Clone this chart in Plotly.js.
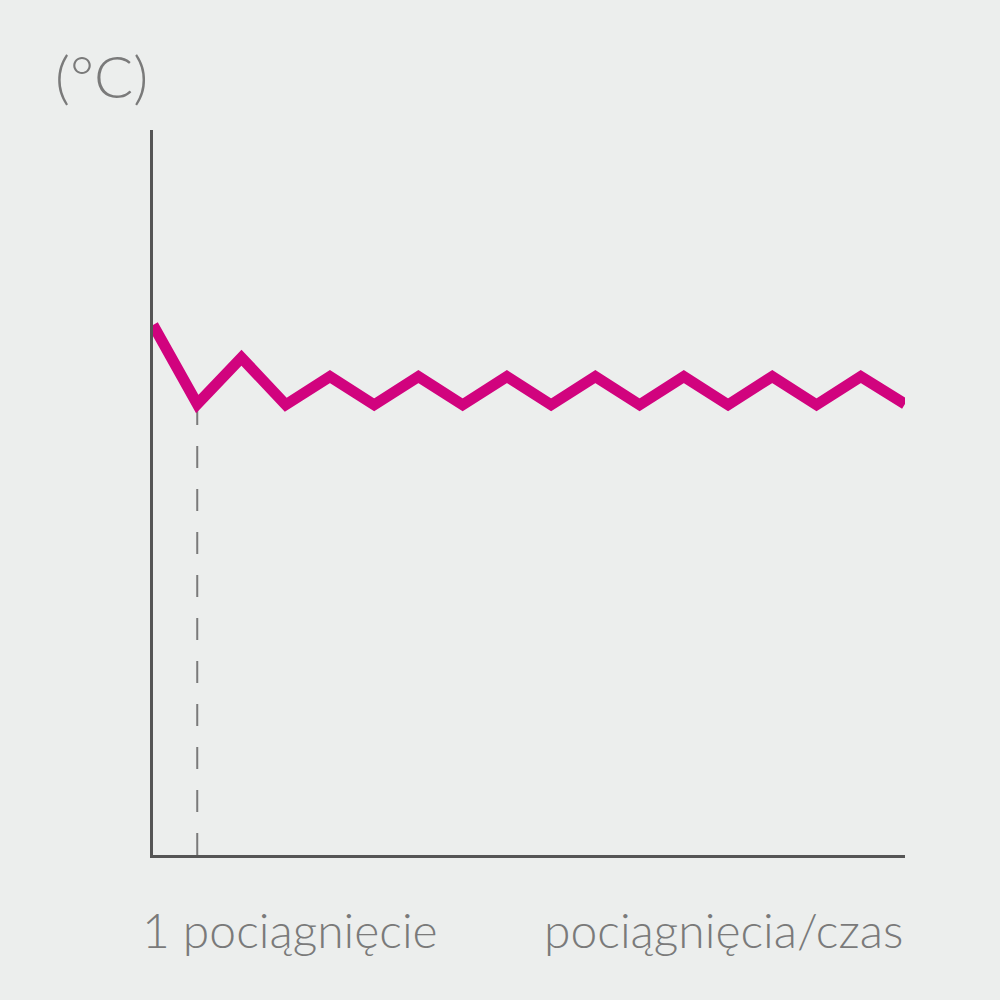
<!DOCTYPE html>
<html>
<head>
<meta charset="utf-8">
<script src="https://cdn.plot.ly/plotly-3.0.1.min.js"></script>
<style>
  html, body { margin: 0; padding: 0; background: #eceeed; }
  #myDiv { width: 1000px; height: 1000px; }
</style>
</head>
<body>
<div id="myDiv"></div>
<script>
// puff number (0 = start) and temperature (arbitrary 0-100 scale)
var puffs = [0, 1, 2, 3, 4, 5, 6, 7, 8, 9, 10, 11, 12, 13, 14, 15, 16, 17];
var temps = [73.1, 62.2, 68.6, 62.1, 66.0, 62.1, 66.0, 62.1, 66.0, 62.1, 66.0, 62.1, 66.0, 62.1, 66.0, 62.1, 66.0, 62.2];

// dashed marker for the first puff
var firstPuffX = [1, 1];
var firstPuffY = [0, 62.2];

var labels = {
  unit: '(°C)',
  first: '1 pociągnięcie',
  axis: 'pociągnięcia/czas'
};

var textFont = {family: 'Lato, sans-serif', size: 48, color: '#7a7a7a', weight: 300};

var plotData = [
  {
    x: firstPuffX,
    y: firstPuffY,
    mode: 'lines',
    type: 'scatter',
    hoverinfo: 'skip',
    line: {color: '#7a7a7a', width: 2, dash: '22px,21px'}
  },
  {
    x: puffs,
    y: temps,
    mode: 'lines',
    type: 'scatter',
    line: {color: '#d1037e', width: 11, shape: 'linear'}
  }
];

var layout = {
  width: 1000,
  height: 1000,
  showlegend: false,
  xaxis: {
    range: [0, 17],
    showgrid: false,
    zeroline: false,
    showticklabels: false,
    ticks: '',
    showline: true,
    linecolor: '#555555',
    linewidth: 3
  },
  yaxis: {
    range: [0, 100],
    showgrid: false,
    zeroline: false,
    showticklabels: false,
    ticks: '',
    showline: true,
    linecolor: '#555555',
    linewidth: 3
  },
  margin: {l: 153, r: 95, t: 130, b: 145},
  plot_bgcolor: '#eceeed',
  paper_bgcolor: '#eceeed',
  annotations: [
    {
      text: labels.unit, xref: 'paper', yref: 'paper',
      x: -0.068, y: 1.0745, xanchor: 'center', yanchor: 'middle',
      showarrow: false, font: Object.assign({}, textFont, {size: 58})
    },
    {
      text: labels.first, xref: 'x', yref: 'paper',
      x: 3.09, y: -0.103, xanchor: 'center', yanchor: 'middle',
      showarrow: false, font: textFont
    },
    {
      text: labels.axis, xref: 'paper', yref: 'paper',
      x: 1.0, y: -0.103, xanchor: 'right', yanchor: 'middle',
      showarrow: false, font: textFont
    }
  ]
};

var config = {displayModeBar: false, staticPlot: true};

Plotly.newPlot('myDiv', plotData, layout, config);
</script>
</body>
</html>
